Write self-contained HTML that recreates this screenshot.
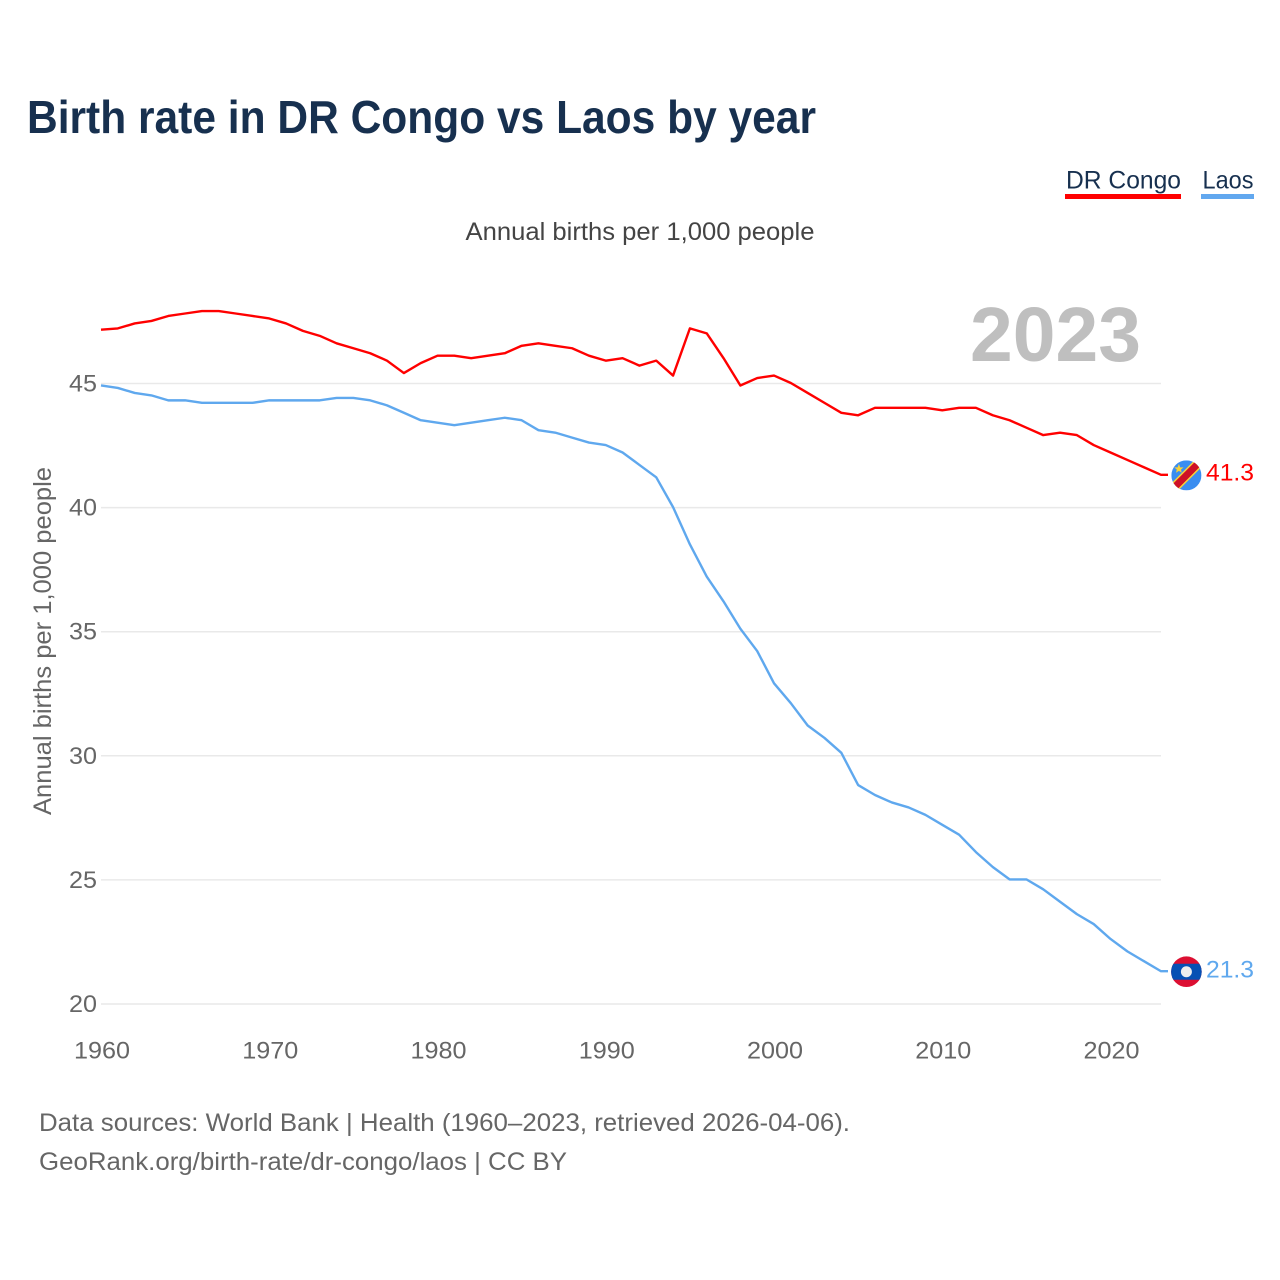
<!DOCTYPE html>
<html lang="en">
<head>
<meta charset="utf-8">
<title>Birth rate in DR Congo vs Laos by year</title>
<style>
html,body{margin:0;padding:0;background:#fff;width:1280px;height:1280px;overflow:hidden}
svg{display:block}
text{font-family:"Liberation Sans",sans-serif}
</style>
</head>
<body>
<svg id="chart" width="1280" height="1280" viewBox="0 0 1280 1280" xmlns="http://www.w3.org/2000/svg">
  <rect width="1280" height="1280" fill="#fff"/>
  <text x="27" y="133" font-size="46" font-weight="700" fill="#17304f" textLength="789" lengthAdjust="spacingAndGlyphs">Birth rate in DR Congo vs Laos by year</text>
  <g>
    <g>
      <text x="1066" y="188.5" font-size="25" fill="#17304f" textLength="115" lengthAdjust="spacingAndGlyphs">DR Congo</text>
      <rect x="1065" y="194" width="116" height="5" fill="#ff0000"/>
    </g>
    <g>
      <text x="1202.5" y="188.5" font-size="25" fill="#17304f" textLength="51" lengthAdjust="spacingAndGlyphs">Laos</text>
      <rect x="1201" y="194" width="53" height="5" fill="#62a8ef"/>
    </g>
  </g>
  <text x="640" y="240" font-size="25" fill="#444" text-anchor="middle" textLength="349" lengthAdjust="spacingAndGlyphs">Annual births per 1,000 people</text>
  <text transform="translate(51,641) rotate(-90)" font-size="25" fill="#666" text-anchor="middle" textLength="348" lengthAdjust="spacingAndGlyphs">Annual births per 1,000 people</text>
  <g id="grid"></g>
  <g id="y-ticks"></g>
  <g id="x-ticks"></g>
  <text id="year-label" x="1141" y="361" font-size="77" font-weight="700" fill="#bfbfbf" text-anchor="end" textLength="171" lengthAdjust="spacingAndGlyphs">2023</text>
  <g id="series" transform="translate(0,-0.5)"></g>
  <g id="flag-drc">
    <clipPath id="clip-drc"><circle cx="0" cy="0" r="15"/></clipPath>
    <g clip-path="url(#clip-drc)">
      <rect x="-15" y="-15" width="30" height="30" fill="#3a8df0"/>
      <line x1="-20" y1="20" x2="20" y2="-20" stroke="#f7d23a" stroke-width="10"/>
      <line x1="-20" y1="20" x2="20" y2="-20" stroke="#ce1126" stroke-width="7"/>
      <polygon points="-7.5,-11.5 -6.2,-8 -2.8,-8 -5.4,-5.8 -4.6,-2.6 -7.5,-4.4 -10.4,-2.6 -9.6,-5.8 -12.2,-8 -8.8,-8" fill="#f7d23a"/>
    </g>
  </g>
  <g id="flag-laos">
    <clipPath id="clip-laos"><circle cx="0" cy="0" r="15.3"/></clipPath>
    <g clip-path="url(#clip-laos)">
      <rect x="-16" y="-16" width="32" height="32" fill="#dc0f32"/>
      <rect x="-16" y="-8" width="32" height="16" fill="#0650b4"/>
      <circle cx="0" cy="0" r="5.5" fill="#eeeeee"/>
    </g>
  </g>
  <g id="end-labels"></g>
  <text x="39" y="1131" font-size="25" fill="#666" textLength="811" lengthAdjust="spacingAndGlyphs">Data sources: World Bank | Health (1960–2023, retrieved 2026-04-06).</text>
  <text x="39" y="1170" font-size="25" fill="#666" textLength="528" lengthAdjust="spacingAndGlyphs">GeoRank.org/birth-rate/dr-congo/laos | CC BY</text>
</svg>
<script>
const firstYear = 1960;
const drCongoValues = [47.15,47.2,47.4,47.5,47.7,47.8,47.9,47.9,47.8,47.7,47.6,47.4,47.1,46.9,46.6,46.4,46.2,45.9,45.4,45.8,46.1,46.1,46.0,46.1,46.2,46.5,46.6,46.5,46.4,46.1,45.9,46.0,45.7,45.9,45.3,47.2,47.0,46.0,44.9,45.2,45.3,45.0,44.6,44.2,43.8,43.7,44.0,44.0,44.0,44.0,43.9,44.0,44.0,43.7,43.5,43.2,42.9,43.0,42.9,42.5,42.2,41.9,41.6,41.3];
const laosValues = [44.9,44.8,44.6,44.5,44.3,44.3,44.2,44.2,44.2,44.2,44.3,44.3,44.3,44.3,44.4,44.4,44.3,44.1,43.8,43.5,43.4,43.3,43.4,43.5,43.6,43.5,43.1,43.0,42.8,42.6,42.5,42.2,41.7,41.2,40.0,38.5,37.2,36.2,35.1,34.2,32.9,32.1,31.2,30.7,30.1,28.8,28.4,28.1,27.9,27.6,27.2,26.8,26.1,25.5,25.0,25.0,24.6,24.1,23.6,23.2,22.6,22.1,21.7,21.3];
const yTicks = [20,25,30,35,40,45];
const xTicks = [1960,1970,1980,1990,2000,2010,2020];

const NS = 'http://www.w3.org/2000/svg';
const plotLeft = 101, plotRight = 1161, yearSpan = 63;
const y20 = 1004, unitHeight = 24.82;
function xScale(year){ return plotLeft + (year - firstYear) * (plotRight - plotLeft) / yearSpan; }
function yScale(v){ return y20 - (v - 20) * unitHeight; }

const grid = document.getElementById('grid');
const yTickGroup = document.getElementById('y-ticks');
const xTickGroup = document.getElementById('x-ticks');
const seriesGroup = document.getElementById('series');
const endGroup = document.getElementById('end-labels');

yTicks.forEach(function(t){
  const line = document.createElementNS(NS, 'line');
  
  
  line.setAttribute('x1', plotLeft);
  line.setAttribute('x2', plotRight);
  line.setAttribute('y1', yScale(t));
  line.setAttribute('y2', yScale(t));
  line.setAttribute('stroke', '#e9e9e9');
  line.setAttribute('stroke-width', '1.5');
  grid.appendChild(line);

  const label = document.createElementNS(NS, 'text');
  
  
  label.setAttribute('x', 97);
  label.setAttribute('y', yScale(t) + 8);
  label.setAttribute('font-size', '24');
  label.setAttribute('fill', '#666');
  label.setAttribute('text-anchor', 'end');
  label.setAttribute('textLength', '28');
  label.setAttribute('lengthAdjust', 'spacingAndGlyphs');
  label.textContent = String(t);
  yTickGroup.appendChild(label);
});

xTicks.forEach(function(t){
  const label = document.createElementNS(NS, 'text');
  
  
  label.setAttribute('x', xScale(t) + 1);
  label.setAttribute('y', 1058.5);
  label.setAttribute('font-size', '24');
  label.setAttribute('fill', '#666');
  label.setAttribute('text-anchor', 'middle');
  label.setAttribute('textLength', '56');
  label.setAttribute('lengthAdjust', 'spacingAndGlyphs');
  label.textContent = String(t);
  xTickGroup.appendChild(label);
});

function pathFor(values){
  let d = values.map(function(v, i){
    return (i ? 'L' : 'M') + xScale(firstYear + i).toFixed(2) + ' ' + yScale(v).toFixed(2);
  }).join(' ');
  d += ' L' + (plotRight + 7) + ' ' + yScale(values[values.length - 1]).toFixed(2);
  return d;
}

const drPath = document.createElementNS(NS, 'path');


drPath.setAttribute('d', pathFor(drCongoValues));
drPath.setAttribute('fill', 'none');
drPath.setAttribute('stroke', '#ff0000');
drPath.setAttribute('stroke-width', '2.4');
drPath.setAttribute('stroke-linejoin', 'round');
seriesGroup.appendChild(drPath);

const laosPath = document.createElementNS(NS, 'path');


laosPath.setAttribute('d', pathFor(laosValues));
laosPath.setAttribute('fill', 'none');
laosPath.setAttribute('stroke', '#5fa8ee');
laosPath.setAttribute('stroke-width', '2.4');
laosPath.setAttribute('stroke-linejoin', 'round');
seriesGroup.appendChild(laosPath);

const flagX = 1186.4;
const drLast = drCongoValues[drCongoValues.length - 1];
const laosLast = laosValues[laosValues.length - 1];
document.getElementById('flag-drc').setAttribute('transform', 'translate(' + flagX + ',' + yScale(drLast) + ')');
document.getElementById('flag-laos').setAttribute('transform', 'translate(' + flagX + ',' + yScale(laosLast) + ')');

const drLabel = document.createElementNS(NS, 'text');


drLabel.setAttribute('x', 1206);
drLabel.setAttribute('y', yScale(drLast) + 5);
drLabel.setAttribute('font-size', '24');
drLabel.setAttribute('fill', '#ff0000');
drLabel.setAttribute('textLength', '48');
drLabel.setAttribute('lengthAdjust', 'spacingAndGlyphs');
drLabel.textContent = drLast.toFixed(1);
endGroup.appendChild(drLabel);

const laosLabel = document.createElementNS(NS, 'text');


laosLabel.setAttribute('x', 1206);
laosLabel.setAttribute('y', yScale(laosLast) + 6);
laosLabel.setAttribute('font-size', '24');
laosLabel.setAttribute('fill', '#5fa8ee');
laosLabel.setAttribute('textLength', '48');
laosLabel.setAttribute('lengthAdjust', 'spacingAndGlyphs');
laosLabel.textContent = laosLast.toFixed(1);
endGroup.appendChild(laosLabel);
</script>
</body>
</html>
